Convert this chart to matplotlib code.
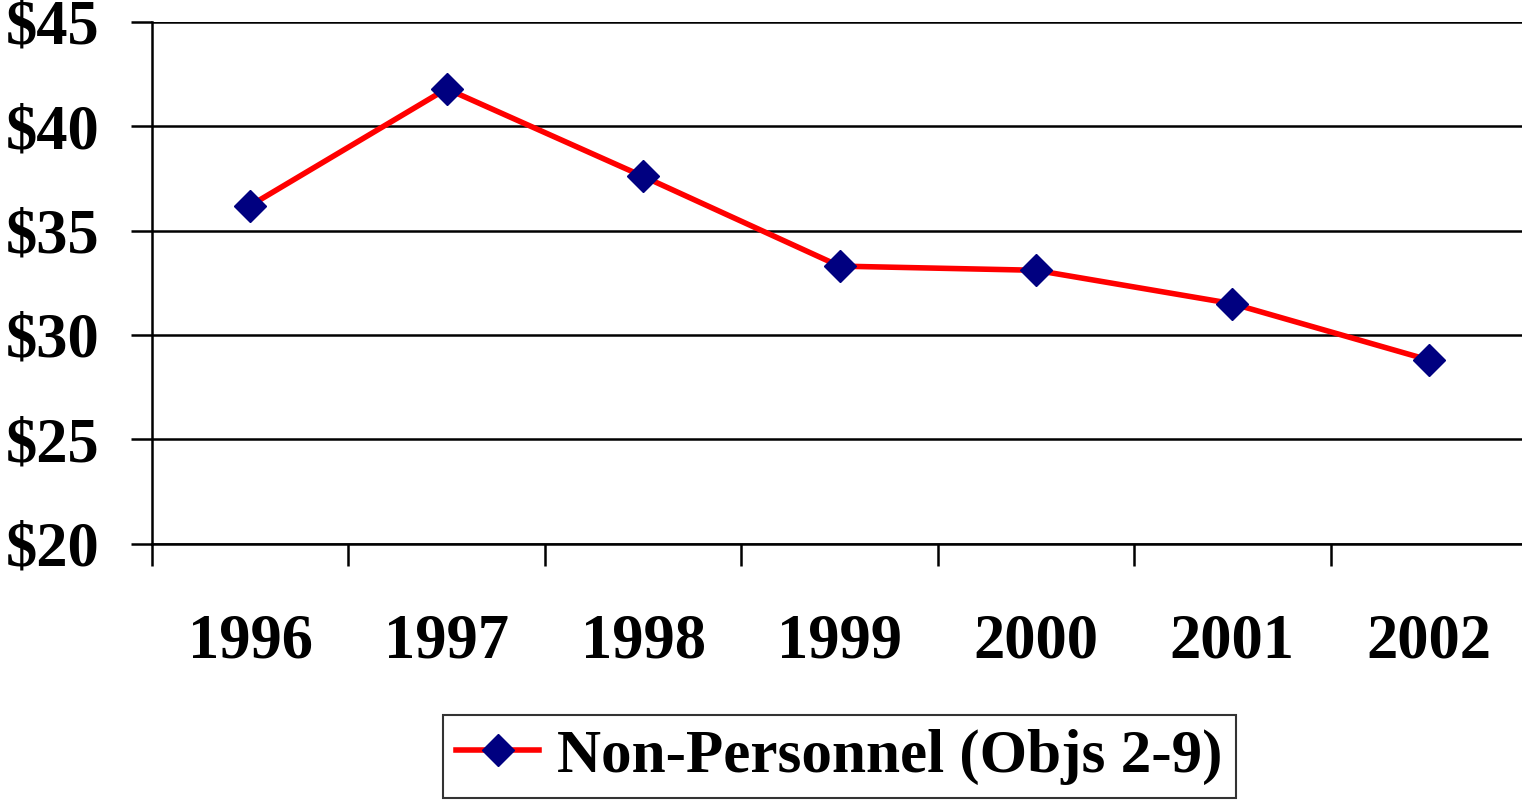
import matplotlib
matplotlib.use('Agg')
import matplotlib.pyplot as plt
from matplotlib.ticker import FuncFormatter

plt.rcParams['font.family'] = ['Liberation Serif', 'DejaVu Serif']
plt.rcParams['font.weight'] = 'bold'

years = ['1996', '1997', '1998', '1999', '2000', '2001', '2002']
non_personnel = [36.2, 41.8, 37.6, 33.3, 33.1, 31.5, 28.8]
series_label = 'Non-Personnel (Objs 2-9)'

fig = plt.figure(figsize=(15.22, 8), dpi=100)
# plot area runs a little past the right edge, as in the original
ax = fig.add_axes([152 / 1522, 1 - 543.6 / 800, 1375 / 1522, (543.6 - 22) / 800])

x = list(range(len(years)))
ax.plot(x, non_personnel, color='#ff0000', linewidth=4, marker='D',
        markersize=16, markerfacecolor='#000080', markeredgecolor='#000080',
        label=series_label, zorder=3, clip_on=False)

ax.set_ylim(20, 45)
ax.set_yticks([20, 25, 30, 35, 40, 45])
ax.yaxis.set_major_formatter(FuncFormatter(lambda v, p: f'${v:.0f}'))
ax.grid(axis='y', color='black', linewidth=1.8)
ax.set_axisbelow(True)

ax.set_xlim(-0.5, len(years) - 0.5)
ax.set_xticks(x)
ax.set_xticklabels(years)
ax.set_xticks([i - 0.5 for i in range(len(years) + 1)], minor=True)

ax.tick_params(axis='y', length=15, width=1.8, pad=23, labelsize=45, colors='black')
ax.tick_params(axis='x', which='major', length=0, pad=50, labelsize=45)
ax.tick_params(axis='x', which='minor', length=16, width=1.8)

for s in ['top', 'right']:
    ax.spines[s].set_visible(False)
for s in ['left', 'bottom']:
    ax.spines[s].set_linewidth(1.8)

for lbl in ax.get_xticklabels() + ax.get_yticklabels():
    lbl.set_fontweight('bold')

leg = fig.legend(loc='lower center', bbox_to_anchor=(839.5 / 1522, 0.0025),
                 prop={'size': 44, 'weight': 'bold'}, frameon=True, fancybox=False,
                 edgecolor='black', handlelength=1.35, handletextpad=0.3,
                 borderpad=0.22, borderaxespad=0)
leg.get_frame().set_linewidth(1.5)

fig.savefig('out.png', dpi=100)
